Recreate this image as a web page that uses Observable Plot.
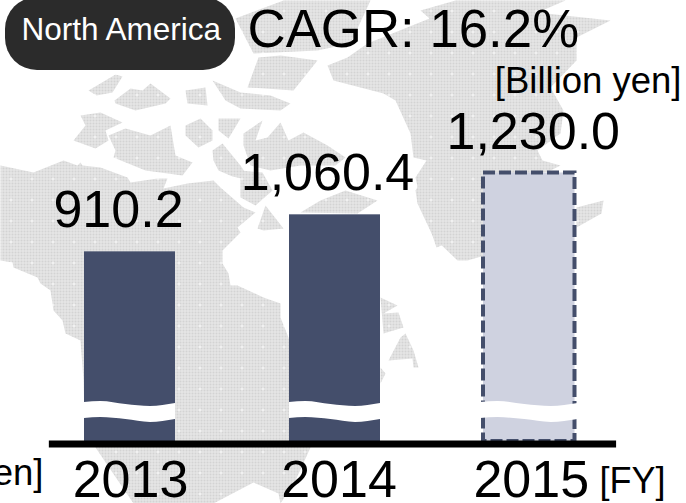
<!DOCTYPE html>
<html>
<head>
<meta charset="utf-8">
<script src="https://cdn.jsdelivr.net/npm/d3@7"></script>
<script src="https://cdn.jsdelivr.net/npm/@observablehq/plot@0.6"></script>
<style>
  html, body { margin: 0; padding: 0; background: #fff; overflow: hidden; }
  #stage { position: relative; width: 686px; height: 503px; overflow: hidden; }
  #stage > svg.layer { position: absolute; left: 0; top: 0; }
  text { font-family: "Liberation Sans", Arial, sans-serif; }
</style>
</head>
<body>
<!-- Halftone fill for the land masses -->
<svg width="0" height="0" style="position:absolute">
  <defs>
    <pattern id="halftone" width="21" height="21" patternUnits="userSpaceOnUse">
      <rect width="21" height="21" fill="#d3d3d3"/>
      <path d="M1.5 0V21M4.5 0V21M7.5 0V21M10.5 0V21M13.5 0V21M16.5 0V21M19.5 0V21M0 1.5H21M0 4.5H21M0 7.5H21M0 10.5H21M0 13.5H21M0 16.5H21M0 19.5H21" stroke="#e9e9e9" stroke-width="1" fill="none"/>
      <path d="M9 10.5H12M10.5 9V12" stroke="#fbfbfb" stroke-width="1" fill="none"/>
    </pattern>
  </defs>
</svg>
<div id="stage"></div>
<script>
// Fiscal years and sales, billion yen (2015 is a forecast)
const years = [2013, 2014, 2015];
const sales = [910.2, 1060.4, 1230.0];
const salesLabels = ["910.2", "1,060.4", "1,230.0"];
const forecastYears = [2015];

// Value axis is cut: the bars start well above zero, with a break drawn across them
const axisFloor = 141;
const breakOffsets = [-1, -0.64, -0.09, 0.45, 1];
const breakUpper = [299, 303, 291, 283, 295];
const breakLower = [234, 238, 230, 218, 230];

// Backdrop map outlines, in the backdrop's own 686x503 grid
const northAmericaShapes = [
  [[0,165],[33,172],[63,160],[77,165],[80,162],[82,165],[100,167],[127,177],[130,182],[157,178],[167,178],[163,188],[187,183],[213,180],[220,187],[243,207],[255,212],[237,227],[240,232],[222,250],[222,263],[228,273],[230,285],[237,285],[263,297],[280,303],[280,317],[288,337],[300,400],[310,447],[295,480],[280,503],[278,493],[253,482],[213,503],[133,503],[95,447],[84,420],[83,380],[80,340],[65,333],[62,320],[53,310],[50,290],[40,283],[37,277],[13,267],[12,262],[0,260]],
  [[88,90],[115,74],[122,76],[112,92],[96,95]],
  [[114,100],[130,88],[142,90],[150,83],[170,98],[165,103],[135,110],[115,103]],
  [[185,90],[205,87],[207,105],[187,103]],
  [[212,80],[240,92],[270,95],[290,103],[280,110],[240,108],[225,100]],
  [[80,115],[100,112],[122,122],[105,130],[108,140],[95,148],[73,140],[85,125]],
  [[108,135],[125,128],[150,135],[170,125],[175,155],[192,162],[182,175],[145,170],[113,157],[115,150]],
  [[185,125],[200,118],[212,130],[212,140],[198,147],[185,135]],
  [[218,118],[240,118],[228,138],[218,130]],
  [[213,160],[212,150],[222,143],[240,165],[250,180],[232,176],[218,170]],
  [[243,133],[262,120],[255,140],[267,137],[280,122],[288,140],[303,132],[327,145],[345,157],[335,165],[300,165],[270,170],[250,165],[243,145]],
  [[240,170],[262,172],[272,190],[255,205],[240,197]],
  [[265,205],[283,228],[263,230],[257,228]],
  [[300,212],[320,200],[345,190],[377,200],[357,213]],
  [[247,87],[258,57],[280,55],[317,60],[293,90],[265,88]],
  [[235,18],[283,0],[370,0],[350,43],[317,50],[253,53]],
  [[327,65],[347,57],[367,43],[429,18],[420,10],[455,0],[565,0],[537,12],[610,20],[576,37],[576,60],[550,87],[563,110],[560,133],[537,150],[542,160],[560,165],[550,170],[484,190],[484,240],[470,233],[436,247],[420,200],[415,177],[426,160],[413,157],[410,133],[395,100],[383,93],[333,80]],
  [[415,190],[427,170],[484,180],[484,255],[467,260],[457,260],[433,237],[417,203]],
  [[576,207],[603,200],[601,213],[576,227]],
  [[380,297],[397,305],[383,313],[398,312],[403,327],[383,333]],
  [[405,333],[413,350],[418,367],[413,367],[412,358],[388,360],[400,337]],
  [[380,367],[385,373],[380,383]]
];

const barColor = "#444e6b";
const forecastFill = "#cfd2e0";
const barHalfWidth = 0.22;

const rows = years.map((year, i) => ({year, sales: sales[i], label: salesLabels[i]}));
const actualRows = rows.filter((d) => !forecastYears.includes(d.year));
const forecastRows = rows.filter((d) => forecastYears.includes(d.year));
const mapRows = northAmericaShapes.flatMap((shape, id) => shape.map(([x, y]) => ({id, x, y})));

// One wavy white band per bar; the forecast band also cuts through the dashed outline
const breakRows = years.flatMap((year) => {
  const half = forecastYears.includes(year) ? barHalfWidth + 0.015 : barHalfWidth;
  return breakOffsets.map((t, i) => ({year, x: year + t * half, upper: breakUpper[i], lower: breakLower[i]}));
});

const textFont = {fontFamily: "'Liberation Sans', Arial, sans-serif"};

// Fixed-position annotation: map, region badge, growth rate and unit notes
function note(text, dx, dy, fontSize, textAnchor = "start", fill = "#000") {
  return Plot.text([text], {
    frameAnchor: "top-left", dx, dy, fontSize, textAnchor, fill, lineAnchor: "bottom", ...textFont
  });
}

const backdrop = Plot.plot({
  width: 686,
  height: 503,
  margin: 0,
  axis: null,
  style: {background: "transparent", overflow: "visible"},
  x: {domain: [0, 686], range: [0, 686]},
  y: {domain: [0, 503], range: [0, 503]},
  marks: [
    Plot.line(mapRows, {x: "x", y: "y", z: "id", fill: "url(#halftone)", stroke: "none"}),
    Plot.rect([0], {x1: 5, x2: 235, y1: -3, y2: 70, rx: 32, fill: "#2b2b2b", clip: false}),
    note("North America", 21, 39, 31.5, "start", "#fff"),
    note("CAGR: 16.2%", 247, 46, 52.8),
    note("[Billion yen]", 681, 92, 36.5, "end"),
    note("[Billion yen]", 43, 484, 36.5, "end"),
    note("[FY]", 599, 492.5, 36)
  ]
});
backdrop.classList.add("layer");

// Small sideways shifts for the value and year labels
const valueNudge = {2013: -11.5, 2014: -7.5, 2015: 4};
const yearNudge = {2013: 0.5, 2014: 4, 2015: 2};

const edgeDomain = years.flatMap((y) => [y - barHalfWidth, y + barHalfWidth]);
const axisSpan = [2012.61, 2015.42];

const chart = Plot.plot({
  width: 686,
  height: 503,
  margin: 0,
  axis: null,
  style: {background: "transparent", overflow: "visible"},
  x: {type: "linear", domain: edgeDomain, range: [84, 175, 289, 380, 483, 574.5]},
  y: {type: "linear", domain: [axisFloor, 1230], range: [441, 172.5]},
  marks: [
    Plot.rectY(actualRows, {
      x1: (d) => d.year - barHalfWidth, x2: (d) => d.year + barHalfWidth,
      y1: axisFloor, y2: "sales", fill: barColor
    }),
    Plot.rectY(forecastRows, {
      x1: (d) => d.year - barHalfWidth, x2: (d) => d.year + barHalfWidth,
      y1: axisFloor, y2: "sales", fill: forecastFill,
      stroke: barColor, strokeWidth: 4, strokeDasharray: "12,4"
    }),
    Plot.areaY(breakRows, {
      x: "x", y1: "lower", y2: "upper", z: "year", fill: "#fff", curve: "monotone-x"
    }),
    Plot.ruleY([axisFloor], {x1: axisSpan[0], x2: axisSpan[1], stroke: "#000", strokeWidth: 7, dy: 2.5}),
    ...rows.map((d) => Plot.text([d], {
      x: "year", y: "sales", text: "label", dx: valueNudge[d.year], dy: -24.5,
      fontSize: 52, lineAnchor: "bottom", textAnchor: "middle", fill: "#000", ...textFont
    })),
    ...rows.map((d) => Plot.text([d], {
      x: "year", y: () => axisFloor, text: (r) => String(r.year), dx: yearNudge[d.year], dy: 55.5,
      fontSize: 52, lineAnchor: "bottom", textAnchor: "middle", fill: "#000", ...textFont
    }))
  ]
});
chart.classList.add("layer");

const stage = document.getElementById("stage");
stage.append(backdrop, chart);
</script>
</body>
</html>
